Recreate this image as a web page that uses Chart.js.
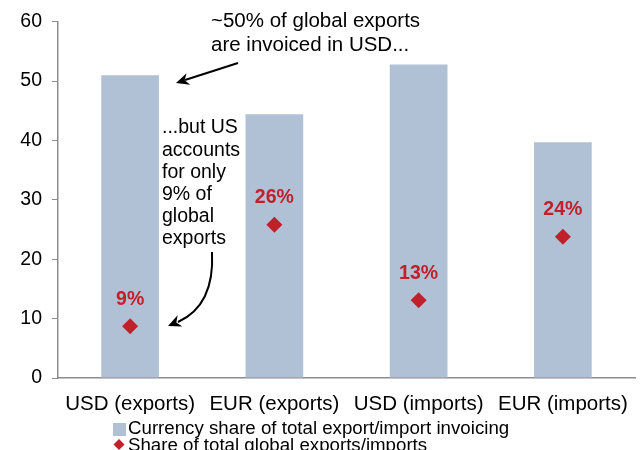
<!DOCTYPE html>
<html>
<head>
<meta charset="utf-8">
<script src="https://cdn.jsdelivr.net/npm/chart.js@4"></script>
<style>
  html, body { margin: 0; padding: 0; background: #fff; }
  #wrap { width: 643px; height: 450px; }
</style>
</head>
<body>
<div id="wrap"><canvas id="myChart" width="643" height="450"></canvas></div>
<script>
// data
const categories = ['USD (exports)', 'EUR (exports)', 'USD (imports)', 'EUR (imports)'];
const invoicingShare = [51.0, 44.4, 52.8, 39.7];
const tradeShare = [8.7, 25.8, 13.1, 23.8];
const tradeShareLabels = ['9%', '26%', '13%', '24%'];
const yTicks = [0, 10, 20, 30, 40, 50, 60];

const FONT = '"Liberation Sans", Arial, sans-serif';
const BAR_COLOR = '#B0C1D6';
const RED = '#C0202A';

// red % labels above the diamonds
const pointLabels = {
    id: 'pointLabels',
    afterDatasetsDraw(chart) {
        const ctx = chart.ctx;
        const meta = chart.getDatasetMeta(1);
        ctx.save();
        ctx.font = 'bold 19.5px ' + FONT;
        ctx.fillStyle = RED;
        ctx.textAlign = 'center';
        ctx.textBaseline = 'middle';
        meta.data.forEach((pt, i) => {
            ctx.fillText(tradeShareLabels[i], pt.x, pt.y - 27);
        });
        ctx.restore();
    }
};

function arrowHead(ctx, x, y, angle, len, w) {
    ctx.save();
    ctx.translate(x, y);
    ctx.rotate(angle);
    ctx.beginPath();
    ctx.moveTo(0, 0);
    ctx.lineTo(-len, -w);
    ctx.lineTo(-len * 0.7, 0);
    ctx.lineTo(-len, w);
    ctx.closePath();
    ctx.fill();
    ctx.restore();
}

// callouts and custom legend
const notes = {
    id: 'notes',
    afterDraw(chart) {
        const ctx = chart.ctx;
        ctx.save();
        ctx.fillStyle = '#000';
        ctx.strokeStyle = '#000';
        ctx.textAlign = 'left';
        ctx.textBaseline = 'middle';
        ctx.font = '20.5px ' + FONT;
        ctx.fillText('~50% of global exports', 211, 21);
        ctx.fillText('are invoiced in USD...', 211, 45);

        ctx.font = '19.5px ' + FONT;
        const lines = ['...but US', 'accounts', 'for only', '9% of', 'global', 'exports'];
        lines.forEach((t, i) => ctx.fillText(t, 162, 128 + i * 22.2));

        // straight arrow to the USD bar
        ctx.lineWidth = 2;
        ctx.beginPath();
        ctx.moveTo(238, 63);
        ctx.lineTo(185, 80);
        ctx.stroke();
        arrowHead(ctx, 176, 83, Math.atan2(83 - 63, 176 - 238), 13, 6);

        // curved arrow to the 9% diamond
        ctx.beginPath();
        ctx.moveTo(212, 252);
        ctx.bezierCurveTo(214, 290, 200, 312, 178, 322);
        ctx.stroke();
        arrowHead(ctx, 168, 326, Math.atan2(326 - 320, 168 - 182), 13, 6);

        // legend
        const ds = chart.data.datasets;
        ctx.font = '18.7px ' + FONT;
        ctx.fillStyle = ds[0].backgroundColor;
        ctx.fillRect(113, 423, 13, 13);
        ctx.fillStyle = '#000';
        ctx.fillText(ds[0].label, 128, 429);
        ctx.fillStyle = RED;
        ctx.beginPath();
        ctx.moveTo(119, 439);
        ctx.lineTo(124.5, 444.5);
        ctx.lineTo(119, 450);
        ctx.lineTo(113.5, 444.5);
        ctx.closePath();
        ctx.fill();
        ctx.fillStyle = '#000';
        ctx.fillText(ds[1].label, 128, 446);
        ctx.restore();
    }
};

const ctx = document.getElementById('myChart').getContext('2d');
new Chart(ctx, {
    type: 'bar',
    data: {
        labels: categories,
        datasets: [{
            label: 'Currency share of total export/import invoicing',
            data: invoicingShare,
            backgroundColor: BAR_COLOR,
            barPercentage: 0.8,
            categoryPercentage: 0.5,
            order: 2
        }, {
            type: 'line',
            label: 'Share of total global exports/imports',
            data: tradeShare,
            showLine: false,
            pointStyle: 'rectRot',
            pointRadius: 8,
            pointHoverRadius: 8,
            backgroundColor: RED,
            borderColor: RED,
            borderWidth: 0,
            order: 1
        }]
    },
    options: {
        responsive: false,
        animation: false,
        layout: { padding: { top: 21, right: 6, left: 0, bottom: 0 } },
        plugins: {
            legend: { display: false },
            tooltip: { enabled: false }
        },
        scales: {
            x: {
                grid: { display: false, drawTicks: false },
                border: { color: '#8c8c8c', width: 1.5 },
                ticks: {
                    color: '#000',
                    font: { family: FONT, size: 20.5 },
                    padding: 14,
                    maxRotation: 0,
                    autoSkip: false
                },
                afterFit(s) { s.height = 72; }
            },
            y: {
                min: 0,
                max: 60,
                afterBuildTicks(s) { s.ticks = yTicks.map(v => ({ value: v })); },
                grid: { drawOnChartArea: false, tickLength: 6, color: '#8c8c8c' },
                border: { color: '#8c8c8c', width: 1.5 },
                ticks: {
                    color: '#000',
                    font: { family: FONT, size: 19.5 },
                    padding: 10
                },
                afterFit(s) { s.width = 58; }
            }
        }
    },
    plugins: [pointLabels, notes]
});
</script>
</body>
</html>
